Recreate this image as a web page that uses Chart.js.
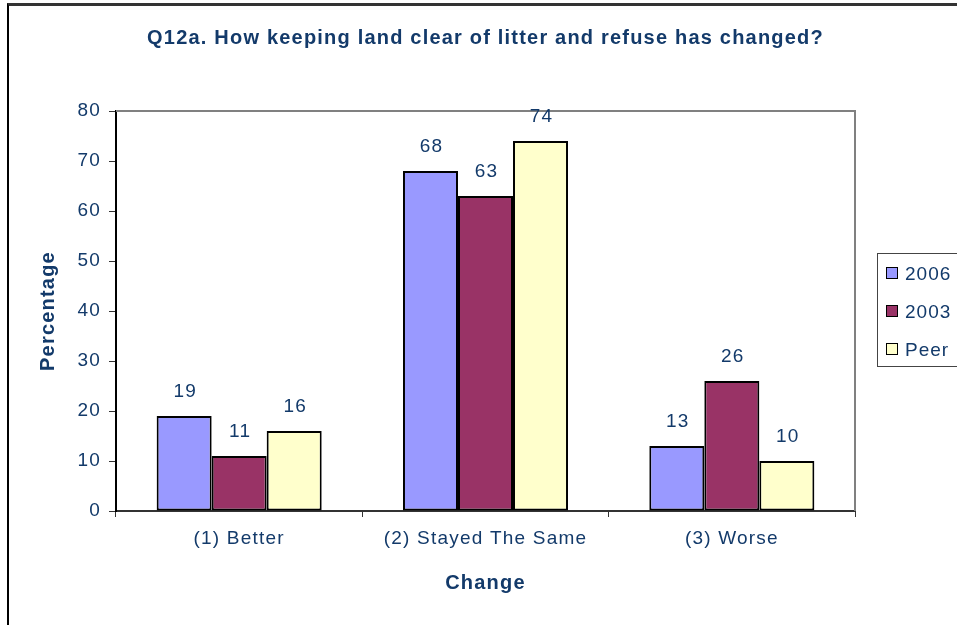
<!DOCTYPE html>
<html>
<head>
<meta charset="utf-8">
<script src="https://cdn.jsdelivr.net/npm/chart.js@4"></script>
<style>
    body { margin: 0; background: #fff; }
    #wrap { position: relative; width: 957px; height: 625px; overflow: hidden; }
    #frame { position: absolute; left: 7px; top: 3px; width: 1000px; height: 700px;
             border-left: 2px solid #000; border-top: 3px solid #333; }
    #myChart { position: absolute; left: 0; top: 0; }
    #legend { position: absolute; left: 877px; top: 253px; width: 100px; height: 114px;
              border: 1px solid #444; font-family: "Liberation Sans", Arial, sans-serif;
              font-size: 19px; letter-spacing: 1px; color: #133a6a; box-sizing: border-box; padding-top: 6px; }
    #legend div { height: 38px; line-height: 28px; padding-left: 8px; }
    #legend span { display: inline-block; width: 10px; height: 10px; border: 1.5px solid #000;
                   margin-right: 7px; vertical-align: 1px; }
</style>
</head>
<body>
<div id="wrap">
    <div id="frame"></div>
    <canvas id="myChart" width="957" height="625"></canvas>
    <div id="legend"></div>
</div>
<script>
// Chart data
const categories = ['(1) Better', '(2) Stayed The Same', '(3) Worse'];
const seriesNames = ['2006', '2003', 'Peer'];
const values2006 = [19, 68, 13];
const values2003 = [11, 63, 26];
const valuesPeer = [16, 74, 10];
const yTicks = [0, 10, 20, 30, 40, 50, 60, 70, 80];

const textColor = '#133a6a';
const fillColors = ['#9999ff', '#993366', '#ffffcc'];
const fontFamily = '"Liberation Sans", Arial, sans-serif';

// Build the legend
const legendEl = document.getElementById('legend');
seriesNames.forEach(function(name, i) {
    const row = document.createElement('div');
    row.innerHTML = '<span style="background:' + fillColors[i] + '"></span>' + name;
    legendEl.appendChild(row);
});

// Slightly wider text, like the original rendering
const wideText = {
    id: 'wideText',
    beforeUpdate(chart) { chart.ctx.letterSpacing = '1.2px'; },
    beforeDraw(chart) { chart.ctx.letterSpacing = '1.2px'; }
};

// Value labels above the bars + plot border
const barLabels = {
    id: 'barLabels',
    beforeDatasetsDraw(chart) {
        const a = chart.chartArea;
        const ctx = chart.ctx;
        ctx.save();
        ctx.strokeStyle = '#808080';
        ctx.lineWidth = 2;
        ctx.beginPath();
        ctx.moveTo(a.left, a.top);
        ctx.lineTo(a.right, a.top);
        ctx.lineTo(a.right, a.bottom);
        ctx.stroke();
        ctx.restore();
    },
    afterDatasetsDraw(chart) {
        const ctx = chart.ctx;
        ctx.save();
        ctx.font = '19px ' + fontFamily;
        ctx.fillStyle = textColor;
        ctx.textAlign = 'center';
        ctx.textBaseline = 'alphabetic';
        chart.data.datasets.forEach(function(ds, i) {
            chart.getDatasetMeta(i).data.forEach(function(bar, j) {
                ctx.fillText(ds.data[j], bar.x + 1, bar.y - 19);
            });
        });
        ctx.restore();
    }
};

const datasetValues = [values2006, values2003, valuesPeer];

new Chart(document.getElementById('myChart'), {
    type: 'bar',
    data: {
        labels: categories,
        datasets: seriesNames.map(function(name, i) {
            return {
                label: name,
                data: datasetValues[i],
                backgroundColor: fillColors[i],
                borderColor: '#000',
                borderWidth: 2,
                borderSkipped: false,
                barPercentage: 1,
                categoryPercentage: 0.67
            };
        })
    },
    options: {
        responsive: false,
        animation: false,
        layout: { padding: { top: 10, left: 0, right: 102, bottom: 0 } },
        plugins: {
            legend: { display: false },
            tooltip: { enabled: false },
            title: {
                display: true,
                fullSize: false,
                text: 'Q12a. How keeping land clear of litter and refuse has changed?',
                color: textColor,
                font: { family: fontFamily, size: 20, weight: 'bold' },
                padding: { top: 16, bottom: 61 }
            }
        },
        scales: {
            x: {
                afterFit: function(scale) { scale.height = 114; },
                grid: { drawOnChartArea: false, tickLength: 6, color: '#333' },
                border: { color: '#333', width: 2 },
                ticks: {
                    color: textColor,
                    padding: 10,
                    font: { family: fontFamily, size: 19 }
                },
                title: {
                    display: true,
                    text: 'Change',
                    color: textColor,
                    font: { family: fontFamily, size: 20, weight: 'bold' },
                    padding: { top: 0, bottom: 30 }
                }
            },
            y: {
                min: 0,
                max: 80,
                afterFit: function(scale) { scale.width = 116; },
                afterBuildTicks: function(scale) {
                    scale.ticks = yTicks.map(function(v) { return { value: v }; });
                },
                grid: { drawOnChartArea: false, tickLength: 7, color: '#333' },
                border: { color: '#000', width: 2 },
                ticks: {
                    color: textColor,
                    padding: 8,
                    font: { family: fontFamily, size: 19 }
                },
                title: {
                    display: true,
                    text: 'Percentage',
                    color: textColor,
                    font: { family: fontFamily, size: 20, weight: 'bold' },
                    padding: { top: 36, bottom: 0 }
                }
            }
        }
    },
    plugins: [wideText, barLabels]
});
</script>
</body>
</html>
